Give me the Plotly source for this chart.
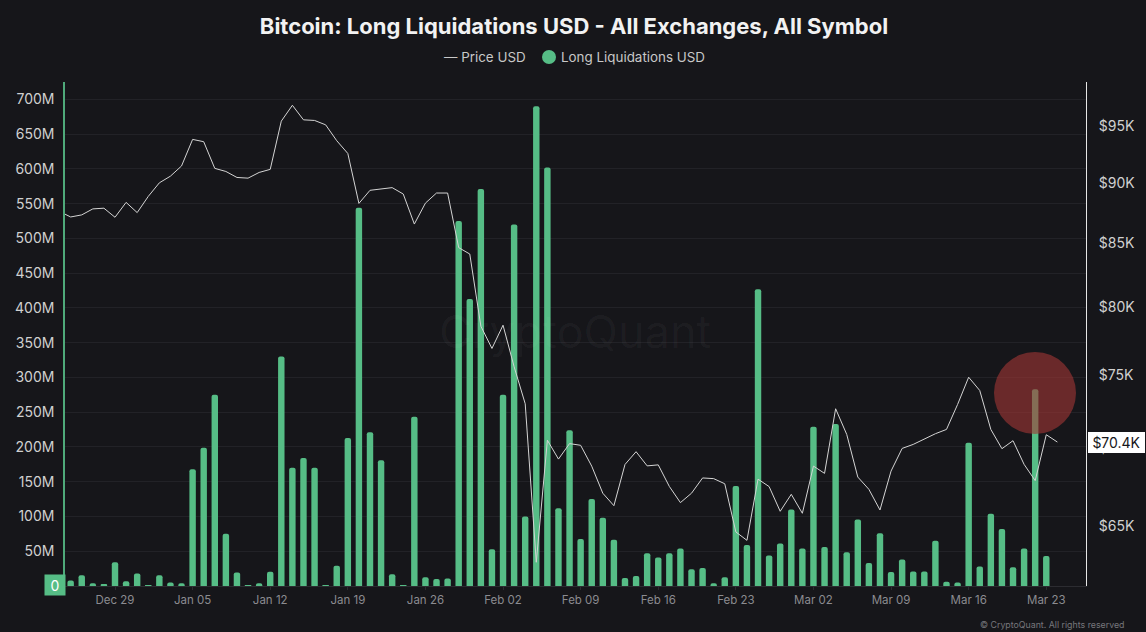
import math
import pandas as pd
import plotly.graph_objects as go

W, H = 1146, 632
L, R, T, B = 65, 1086, 82, 586

# Daily liquidations in million USD, Dec 25 to Mar 23
liq_dates = pd.date_range("2025-12-25", "2026-03-23", freq="D")
long_liq = [8, 15.5, 4, 2, 34, 7, 18, 1, 15.5, 5, 4,
            168, 199, 275, 75, 19.5, 0.5, 4, 20.5,
            330, 170, 184, 170, 1, 29, 213,
            544, 221, 181, 17, 0.5, 243.5, 12.5, 10, 10.7,
            525, 413, 571, 53, 275, 520, 100,
            690, 602, 112, 224, 67.5, 125, 98,
            66.5, 11.5, 14.5, 47, 41, 47, 54,
            24, 26, 4, 12.5, 144, 59, 427,
            44, 61, 110, 54, 229, 56, 233,
            48.5, 95.5, 33, 76, 20, 38, 21,
            21, 65, 6, 5, 206, 28, 104,
            82, 27, 54, 283, 43]

# Daily BTC price, Dec 24 to Mar 24
price_dates = pd.date_range("2025-12-24", "2026-03-24", freq="D")
price = [87600, 87144, 87317, 87815, 87873, 87119, 88357, 87507, 88859, 90011, 90583, 91462,
         93794, 93590, 91255, 90987, 90471, 90412, 90902, 91168,
         95432, 96879, 95550, 95496, 95099, 93678, 92551,
         88273, 89375, 89493, 89603, 89062, 86561, 88298, 89146, 89146,
         84649, 84137, 78573, 76932, 78647, 75611, 73002,
         62818, 70523, 69273, 70297, 70184, 68809, 67067,
         66279, 68920, 69760, 68828, 68894, 67499, 66472,
         67067, 68045, 68000, 67672, 64649, 64137, 67967,
         67490, 65928, 66998, 65804, 68815, 68341, 72658,
         70912, 68103, 67315, 66010, 68490, 69977, 70244,
         70624, 70959, 71248, 72954, 74862, 73926, 71248,
         69958, 70491, 68926, 67872, 70891, 70400]

x_ticks = ["2025-12-29", "2026-01-05", "2026-01-12", "2026-01-19", "2026-01-26", "2026-02-02", "2026-02-09",
           "2026-02-16", "2026-02-23", "2026-03-02", "2026-03-09", "2026-03-16", "2026-03-23"]
x_labels = ["Dec 29", "Jan 05", "Jan 12", "Jan 19", "Jan 26", "Feb 02", "Feb 09",
            "Feb 16", "Feb 23", "Mar 02", "Mar 09", "Mar 16", "Mar 23"]
liq_ticks = [50, 100, 150, 200, 250, 300, 350, 400, 450, 500, 550, 600, 650, 700]
liq_labels = ["50M", "100M", "150M", "200M", "250M", "300M", "350M", "400M", "450M", "500M", "550M", "600M", "650M", "700M"]
price_ticks = [65000, 70000, 75000, 80000, 85000, 90000, 95000]
price_labels = ["$65K", "$70K", "$75K", "$80K", "$85K", "$90K", "$95K"]

BG = "#16161a"
GREEN = "#56bd86"
FONT = "Inter"


# pixel position in the picture -> paper fraction of the plot area
def px(x):
    return (x - L) / (R - L)


def py(y):
    return (B - y) / (B - T)


def note(x, y, text, size, color, xanchor="center", **kw):
    return dict(x=px(x), y=py(y), xref="paper", yref="paper", text=text, showarrow=False,
                xanchor=xanchor, yanchor="middle", font=dict(family=FONT, size=size, color=color), **kw)


fig = go.Figure()
fig.add_trace(go.Bar(x=liq_dates, y=long_liq, name="Long Liquidations USD", marker=dict(color=GREEN, line_width=0)))
fig.add_trace(go.Scatter(x=price_dates, y=price, name="Price USD", yaxis="y2", mode="lines",
                         line=dict(color="#d4d4d4", width=1)))

fig.update_layout(
    width=W, height=H, autosize=False,
    margin=dict(l=L, r=W - R, t=T, b=H - B, pad=0),
    paper_bgcolor=BG, plot_bgcolor=BG,
    showlegend=False, bargap=0.42, barcornerradius=2,
    font=dict(family=FONT, color="#d0d0d0"),
    title=dict(text="<b>Bitcoin: Long Liquidations USD - All Exchanges, All Symbol</b>",
               x=574 / W, xanchor="center", y=1 - 26 / H, yanchor="middle",
               font=dict(family=FONT, size=22, color="#f2f2f2")),
    xaxis=dict(type="date", range=["2025-12-24 11:45", "2026-03-26 14:00"], automargin=False,
               tickvals=x_ticks, ticktext=x_labels, showgrid=False, zeroline=False,
               showline=True, linecolor="#2c2c31", linewidth=1,
               ticks="outside", ticklen=3, tickcolor="#2c2c31",
               tickfont=dict(family=FONT, size=11.5, color="#8b8b90")),
    yaxis=dict(range=[0, 725], tickvals=liq_ticks, ticktext=liq_labels, automargin=False,
               gridcolor="#222227", gridwidth=1, zeroline=False,
               showline=True, linecolor="#4fa97a", linewidth=1.5,
               ticks="", ticklabelstandoff=6,
               tickfont=dict(family=FONT, size=14, color="#d0d0d0")),
    yaxis2=dict(type="log", range=[4.78831, 4.99581], overlaying="y", side="right", automargin=False,
                tickvals=price_ticks, ticktext=price_labels, showgrid=False, zeroline=False,
                showline=True, linecolor="#e6e6e6", linewidth=1,
                ticks="", ticklabelstandoff=9,
                tickfont=dict(family=FONT, size=14, color="#d0d0d0")),
    shapes=[
        # red highlight over the last spike
        dict(type="circle", xref="paper", yref="paper", x0=px(994), x1=px(1076), y0=py(434), y1=py(352),
             fillcolor="rgba(164,55,53,0.6)", line_width=0, layer="above"),
        # legend marker
        dict(type="circle", xref="paper", yref="paper", x0=px(542), x1=px(556), y0=py(64), y1=py(50),
             fillcolor=GREEN, line_width=0),
    ],
    annotations=[
        note(575, 331, "CryptoQuant", 45, "rgba(255,255,255,0.04)"),
        note(442, 57, "— Price USD", 13.4, "#c8c8c8", xanchor="left"),
        note(559, 57, "Long Liquidations USD", 13.4, "#c8c8c8", xanchor="left"),
        note(55, 585, "0", 14, "#ffffff", bgcolor=GREEN, width=18, height=18, align="center"),
        # log axis: annotation y is given in log10
        dict(x=1, y=math.log10(price[-1]), xref="paper", yref="y2", text="$70.4K", showarrow=False,
             xanchor="left", yanchor="middle", xshift=2, bgcolor="#ffffff", bordercolor="#ffffff", borderpad=1,
             width=53, align="center", font=dict(family=FONT, size=14, color="#16161a")),
        note(1126, 624, "© CryptoQuant. All rights reserved", 8.8, "#77777c", xanchor="right"),
    ],
)

fig.write_html("out.html", config={"displayModeBar": False},
               post_script="document.body.style.margin='0';document.body.style.background='#16161a';")
